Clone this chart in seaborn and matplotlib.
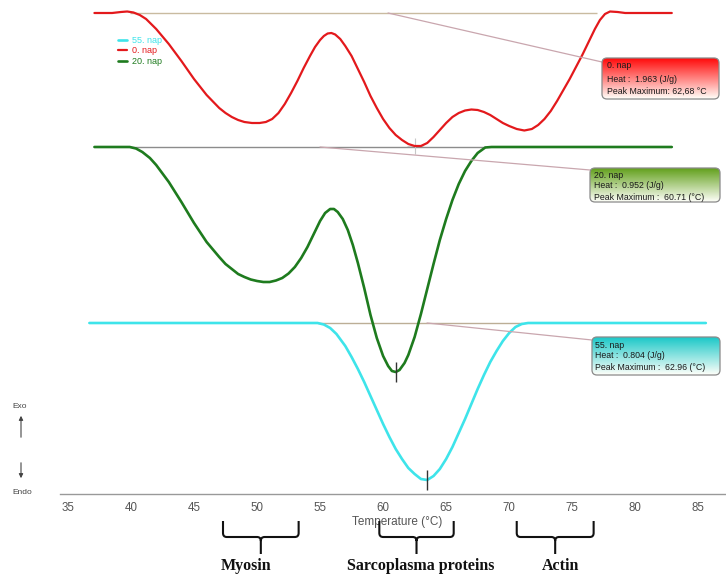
import numpy as np
import matplotlib
matplotlib.use("Agg")
import matplotlib.pyplot as plt
import matplotlib.colors as mcolors
import matplotlib.transforms as mtransforms
from matplotlib.patches import FancyBboxPatch, PathPatch
from matplotlib.path import Path
from matplotlib.ticker import MultipleLocator
import seaborn as sns

# DSC thermograms, heat flow deflection from each baseline (arbitrary units, endo down)
temp_0 = [37.1, 38.5, 39.2, 39.7, 40.2, 40.7, 41.2, 42, 43, 44, 45, 46, 47, 47.5, 48, 48.5, 49,
          49.6, 50.2, 50.7, 51.2, 51.7, 52.2, 52.7, 53.2, 53.7, 54.2, 54.6, 55, 55.3, 55.6, 55.9,
          56.2, 56.6, 57, 57.5, 58, 58.5, 59, 59.5, 60, 60.5, 61, 61.5, 62, 62.5, 63, 63.5, 64,
          64.5, 65, 65.5, 66, 66.5, 67, 67.5, 68, 68.5, 69, 69.5, 70, 70.6, 71.2, 71.8, 72.3,
          72.8, 73.3, 73.8, 74.3, 74.8, 75.3, 75.8, 76.3, 76.8, 77.2, 77.6, 78, 78.6, 79.2, 82.9]
flow_0 = [0, 0, 0.1, 0.15, 0.05, -0.2, -0.6, -1.6, -3.1, -4.8, -6.6, -8.2, -9.5, -10.0, -10.4,
          -10.7, -10.9, -11.0, -11.0, -10.9, -10.6, -10.0, -9.1, -8.0, -6.8, -5.5, -4.3, -3.4,
          -2.7, -2.3, -2.05, -2.0, -2.15, -2.6, -3.3, -4.3, -5.6, -6.9, -8.3, -9.5, -10.6,
          -11.5, -12.2, -12.7, -13.1, -13.3, -13.3, -13.0, -12.4, -11.7, -11.0, -10.4, -10.0,
          -9.75, -9.65, -9.7, -9.9, -10.2, -10.6, -11.0, -11.3, -11.6, -11.75, -11.6, -11.2,
          -10.6, -9.8, -8.8, -7.7, -6.6, -5.4, -4.2, -2.9, -1.6, -0.7, -0.1, 0.15, 0.1, 0, 0]

temp_20 = [37.1, 39.9, 40.4, 40.9, 41.5, 42, 43, 44, 45, 46, 47, 47.5, 48, 48.5, 49, 49.5, 50,
           50.5, 51, 51.5, 52, 52.5, 53, 53.5, 54, 54.5, 55, 55.4, 55.8, 56.1, 56.4, 56.8, 57.2,
           57.6, 58, 58.5, 59, 59.5, 60, 60.4, 60.7, 61, 61.3, 61.7, 62, 62.5, 63, 63.5, 64,
           64.5, 65, 65.5, 66, 66.5, 67, 67.5, 68.1, 68.6, 82.9]
flow_20 = [0, 0, -0.15, -0.5, -1.1, -1.8, -3.5, -5.5, -7.6, -9.5, -11.0, -11.7, -12.2, -12.7,
           -13.0, -13.25, -13.4, -13.5, -13.5, -13.35, -13.1, -12.65, -12.0, -11.1, -10.0, -8.7,
           -7.4, -6.6, -6.2, -6.2, -6.5, -7.2, -8.3, -9.8, -11.6, -14.1, -16.8, -19.1, -20.9,
           -21.9, -22.4, -22.5, -22.3, -21.6, -20.8, -19.0, -16.7, -14.2, -11.7, -9.3, -7.2,
           -5.3, -3.7, -2.4, -1.4, -0.6, -0.05, 0, 0]

temp_55 = [36.7, 54.8, 55.3, 55.8, 56.3, 57, 57.5, 58, 58.5, 59, 59.5, 60, 60.5, 61, 61.5, 62,
           62.5, 63, 63.5, 64, 64.5, 65, 65.5, 66, 66.5, 67, 67.5, 68, 68.5, 69, 69.5, 70, 70.5,
           71, 71.5, 85.6]
flow_55 = [0, 0, -0.15, -0.5, -1.1, -2.3, -3.4, -4.6, -5.9, -7.3, -8.7, -10.1, -11.4, -12.6,
           -13.6, -14.5, -15.1, -15.6, -15.7, -15.3, -14.6, -13.6, -12.4, -11.0, -9.6, -8.1,
           -6.6, -5.2, -3.9, -2.8, -1.8, -1.0, -0.4, -0.1, 0, 0]

# integration limits of each peak (°C)
limits_0 = [39.9, 77.0]
limits_20 = [39.9, 68.1]
limits_55 = [54.8, 71.0]

names = ["0. nap", "20. nap", "55. nap"]
heat_text = ["Heat :  1.963 (J/g)", "Heat :  0.952 (J/g)", "Heat :  0.804 (J/g)"]
peak_text = ["Peak Maximum: 62,68 °C", "Peak Maximum :  60.71 (°C)", "Peak Maximum :  62.96 (°C)"]

regions = ["Myosin", "Sarcoplasma proteins", "Actin"]
region_lo = [47.3, 59.7, 70.6]
region_hi = [53.3, 65.6, 76.7]

# ---------------------------------------------------------------------------
sns.set_style("white")
plt.rcParams['font.family'] = ['Liberation Sans', 'DejaVu Sans']

W, H = 726, 576
fig = plt.figure(figsize=(W / 100, H / 100), dpi=100)
ax = fig.add_axes([60 / W, (H - 494) / H, 666 / W, 494 / H])

colors = {"0. nap": "#e3191c", "20. nap": "#1e7b1e", "55. nap": "#3ee4ea"}
offsets = {"0. nap": 48.1, "20. nap": 34.7, "55. nap": 17.1}
widths = {"0. nap": 1.6, "20. nap": 1.9, "55. nap": 1.9}
curves = {"0. nap": (temp_0, flow_0, limits_0),
          "20. nap": (temp_20, flow_20, limits_20),
          "55. nap": (temp_55, flow_55, limits_55)}
base_colors = {"0. nap": "#c9bba0", "20. nap": "#8c8c8c", "55. nap": "#bcae96"}

handles = {}
for name in names:
    t, f, lim = curves[name]
    y = np.array(f) + offsets[name]
    ax.hlines(offsets[name], lim[0], lim[1], color=base_colors[name], lw=1.0, zorder=1)
    sns.lineplot(x=t, y=y, color=colors[name], linewidth=widths[name], ax=ax, zorder=3,
                 solid_joinstyle='round', solid_capstyle='round')
    handles[name] = ax.lines[-1]
    i = int(np.argmin(f))
    if name == "0. nap":
        ax.plot(t[i], y[i], marker='+', ms=12, mew=0.8, color='#c8c8c8', zorder=2)
    else:
        ax.plot(t[i], y[i], marker='|', ms=14, mew=1.0, color='#333333', zorder=4)

ax.set_xlim(34.37, 87.2)
ax.set_ylim(0, 49.4)
ax.set_xticks(range(35, 90, 5))
ax.xaxis.set_minor_locator(MultipleLocator(2.5))
ax.tick_params(axis='x', which='major', direction='inout', length=4, width=0.8,
               color='#999999', labelsize=8.3, labelcolor='#555555', pad=4)
ax.tick_params(axis='x', which='minor', direction='inout', length=3, width=0.6, color='#999999')
ax.set_yticks([])
sns.despine(ax=ax, left=True)
ax.spines['bottom'].set_color('#999999')
ax.spines['bottom'].set_linewidth(1.0)
ax.set_xlabel("Temperature (°C)", fontsize=8.5, color='#555555')
ax.xaxis.set_label_coords((397 - 60) / 666, -(516 - 494) / 494)

leg_order = ["55. nap", "0. nap", "20. nap"]
ax.legend([handles[n] for n in leg_order], leg_order, loc='upper left',
          bbox_to_anchor=(118 / W, 1 - 36 / H), bbox_transform=fig.transFigure,
          fontsize=6.5, handlelength=1.0, handletextpad=0.5, labelspacing=0.15,
          borderpad=0, borderaxespad=0, frameon=False, labelcolor='linecolor')

# overlay in pixel coordinates for the annotation boxes
ov = fig.add_axes([0, 0, 1, 1])
ov.set_zorder(2)
ov.patch.set_alpha(0)
ov.axis('off')
ov.set_autoscale_on(False)
ov.set_xlim(0, W)
ov.set_ylim(H, 0)

boxes = {"0. nap": (602, 58, 719, 99, "#ff0a0a", [66, 79, 91], 607),
         "20. nap": (590, 168, 720, 202, "#62a01c", [175, 186, 197], 594),
         "55. nap": (592, 337, 720, 375, "#1cc8c8", [345, 356, 367], 595)}
connectors = {"0. nap": ((388, 13), (602, 62)),
              "20. nap": ((320, 147), (590, 170)),
              "55. nap": ((427, 323), (592, 340))}

for k, name in enumerate(names):
    (xa, ya), (xb, yb) = connectors[name]
    ov.plot([xa, xb], [ya, yb], color='#c9a6ae', lw=0.9, zorder=1)
    x0, y0, x1, y1, top, rows, tx = boxes[name]
    patch = FancyBboxPatch((x0, y0), x1 - x0, y1 - y0,
                           boxstyle="round,pad=0,rounding_size=5",
                           fc='none', ec='#8a8a8a', lw=0.9, zorder=6)
    ov.add_patch(patch)
    c = np.array(mcolors.to_rgb(top))
    s = np.linspace(0, 1, 80)[:, None, None]
    grad = (1 - s) * c + s * np.array([1.0, 1.0, 0.98])
    im = ov.imshow(grad, extent=[x0, x1, y1, y0], origin='upper', aspect='auto', zorder=5)
    im.set_clip_path(patch)
    for row, txt in zip(rows, [name, heat_text[k], peak_text[k]]):
        ov.text(tx, row, txt, fontsize=6.3, color='#1a1a1a', va='center', ha='left', zorder=7)

# exo / endo markers
ov.text(20, 406, "Exo", fontsize=6, color='#444444', ha='center', va='center')
ov.text(22, 493, "Endo", fontsize=6, color='#444444', ha='center', va='center')
ov.annotate('', xy=(21, 413), xytext=(21, 440),
            arrowprops=dict(arrowstyle='-|>', color='#444444', lw=0.8, mutation_scale=6))
ov.annotate('', xy=(21, 481), xytext=(21, 460),
            arrowprops=dict(arrowstyle='-|>', color='#444444', lw=0.8, mutation_scale=6))

# braces under the axis: x in °C, y in pixels
mixed = mtransforms.blended_transform_factory(ax.transData, ov.transData)
yt, yh, ys, ry, rx = 521, 537, 554, 4, 0.3
label_shift = [-1.2, 0.3, 0.4]
for k, reg in enumerate(regions):
    x0, x1 = region_lo[k], region_hi[k]
    xc = (x0 + x1) / 2
    verts = [(x0, yt), (x0, yh - ry), (x0, yh), (x0 + rx, yh), (xc - rx, yh), (xc, yh),
             (xc, yh + ry), (xc, ys),
             (xc, yh + ry), (xc, yh), (xc + rx, yh), (x1 - rx, yh), (x1, yh), (x1, yh - ry),
             (x1, yt)]
    codes = [Path.MOVETO, Path.LINETO, Path.CURVE3, Path.CURVE3, Path.LINETO, Path.CURVE3,
             Path.CURVE3, Path.LINETO,
             Path.MOVETO, Path.CURVE3, Path.CURVE3, Path.LINETO, Path.CURVE3, Path.CURVE3,
             Path.LINETO]
    ov.add_patch(PathPatch(Path(verts, codes), transform=mixed, fc='none', ec='#111111',
                           lw=1.5, clip_on=False))
    ov.text(xc + label_shift[k], 566, reg, transform=mixed, family=['Liberation Serif', 'DejaVu Serif'],
            fontweight='bold', fontsize=11.5, color='#111111', ha='center', va='center')

fig.savefig("out.png", dpi=100)
